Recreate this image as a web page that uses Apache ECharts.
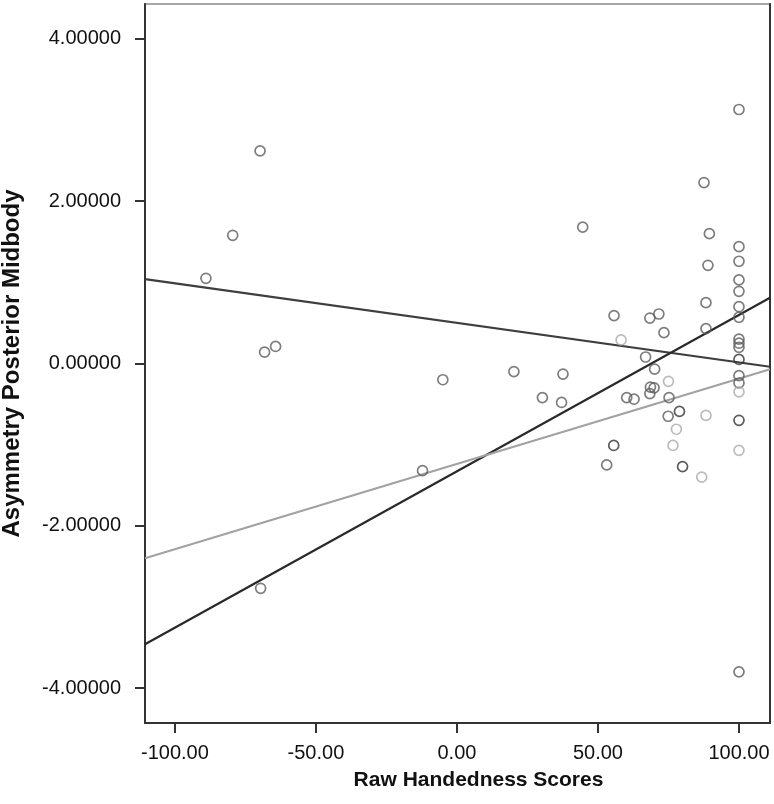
<!DOCTYPE html>
<html>
<head>
<meta charset="utf-8">
<script src="https://cdn.jsdelivr.net/npm/echarts@6/dist/echarts.min.js"></script>
<style>html,body{margin:0;padding:0;background:#fff}#c{width:774px;height:804px}</style>
</head>
<body>
<div id="c"></div>
<script>
// Tick values
var xTicks = [-100, -50, 0, 50, 100];
var yTicks = [-4, -2, 0, 2, 4];

// Scatter points: [Raw Handedness Score, Asymmetry Posterior Midbody]
var midPoints = [
  [-89.0, 1.05], [-79.5, 1.58], [-69.8, 2.62], [-68.2, 0.14], [-64.3, 0.21], [-69.6, -2.77],
  [-12.2, -1.32], [-5.0, -0.20], [20.2, -0.10], [30.3, -0.42], [37.6, -0.13], [37.1, -0.48],
  [44.6, 1.68], [53.1, -1.25], [55.7, 0.59], [60.2, -0.42], [62.8, -0.44], [66.9, 0.08],
  [68.4, 0.56], [71.6, 0.61], [68.6, -0.29], [69.9, -0.30], [68.4, -0.37], [70.1, -0.07],
  [73.4, 0.38], [75.2, -0.42], [74.9, -0.65], [87.6, 2.23], [89.5, 1.60], [89.0, 1.21],
  [88.3, 0.75], [88.3, 0.43],
  [100, 3.13], [100, 1.44], [100, 1.26], [100, 1.03], [100, 0.89], [100, 0.70], [100, 0.57],
  [100, 0.30], [100, 0.25], [100, 0.20], [100, -0.15], [100, -0.24], [100, -3.80]
];
var darkPoints = [
  [55.6, -1.01], [78.9, -0.59], [80.0, -1.27], [100, 0.05], [100, -0.70]
];
var lightPoints = [
  [58.2, 0.29], [75.0, -0.22], [77.8, -0.81], [76.6, -1.01], [86.8, -1.40], [88.3, -0.64],
  [100, -0.35], [100, -1.07]
];

// Fit lines (values at the two ends of the x range)
var fitX = [-110.6, 111];
var fitDescending = [1.04, -0.04];
var fitSteep = [-3.46, 0.81];
var fitLight = [-2.40, -0.07];

function pair(ys) { return fitX.map(function (x, i) { return [x, ys[i]]; }); }

var FONT = 'Liberation Sans, Arial, sans-serif';
var chart = echarts.init(document.getElementById('c'), null, { renderer: 'canvas' });

function scatter(data, color) {
  return {
    type: 'scatter', data: data, symbol: 'circle', symbolSize: 10,
    itemStyle: { color: 'rgba(255,255,255,0)', borderColor: color, borderWidth: 1.7 },
    z: 3, silent: true
  };
}
function fit(data, color) {
  return {
    type: 'line', data: pair(data), showSymbol: false, symbol: 'none',
    lineStyle: { color: color, width: 2.2 }, z: 2, silent: true
  };
}

chart.setOption({
  animation: false,
  grid: { left: 145, right: 4, top: 4, bottom: 81, outerBoundsMode: 'none', containLabel: false,
    show: true, borderColor: '#8a8a8a', borderWidth: 1.5 },
  xAxis: [{
    type: 'value', min: fitX[0], max: fitX[1],
    name: 'Raw Handedness Scores', nameLocation: 'middle', nameGap: 47,
    nameTextStyle: { fontFamily: FONT, fontSize: 21, fontWeight: 'bold', color: '#111', padding: [0, 0, 0, 42] },
    axisLine: { show: true, onZero: false, lineStyle: { color: '#333', width: 2 } },
    axisTick: { show: true, length: 10, customValues: xTicks, lineStyle: { color: '#333', width: 2 } },
    axisLabel: { customValues: xTicks, margin: 20, fontFamily: FONT, fontSize: 20, color: '#111',
      formatter: function (v) { return v.toFixed(2); } },
    splitLine: { show: false }
  }],
  yAxis: [{
    type: 'value', min: -4.43, max: 4.43,
    name: 'Asymmetry Posterior Midbody', nameLocation: 'middle', nameGap: 121,
    nameTextStyle: { fontFamily: FONT, fontSize: 24, fontWeight: 'bold', color: '#111' },
    axisLine: { show: true, onZero: false, lineStyle: { color: '#333', width: 2 } },
    axisTick: { show: true, length: 10, customValues: yTicks, lineStyle: { color: '#333', width: 2 } },
    axisLabel: { customValues: yTicks, margin: 24, fontFamily: FONT, fontSize: 20, color: '#111',
      formatter: function (v) { return v.toFixed(5); } },
    splitLine: { show: false }
  }, {
    type: 'value', position: 'right', min: -4.43, max: 4.43,
    axisLine: { show: true, onZero: false, lineStyle: { color: '#333', width: 2 } },
    axisTick: { show: false }, axisLabel: { show: false }, splitLine: { show: false }
  }],
  series: [
    fit(fitDescending, '#3e3e3e'),
    fit(fitSteep, '#2a2a2a'),
    fit(fitLight, '#a2a2a2'),
    scatter(midPoints, '#5c5c5c'),
    scatter(darkPoints, '#333333'),
    scatter(lightPoints, '#ababab')
  ]
});
</script>
</body>
</html>
